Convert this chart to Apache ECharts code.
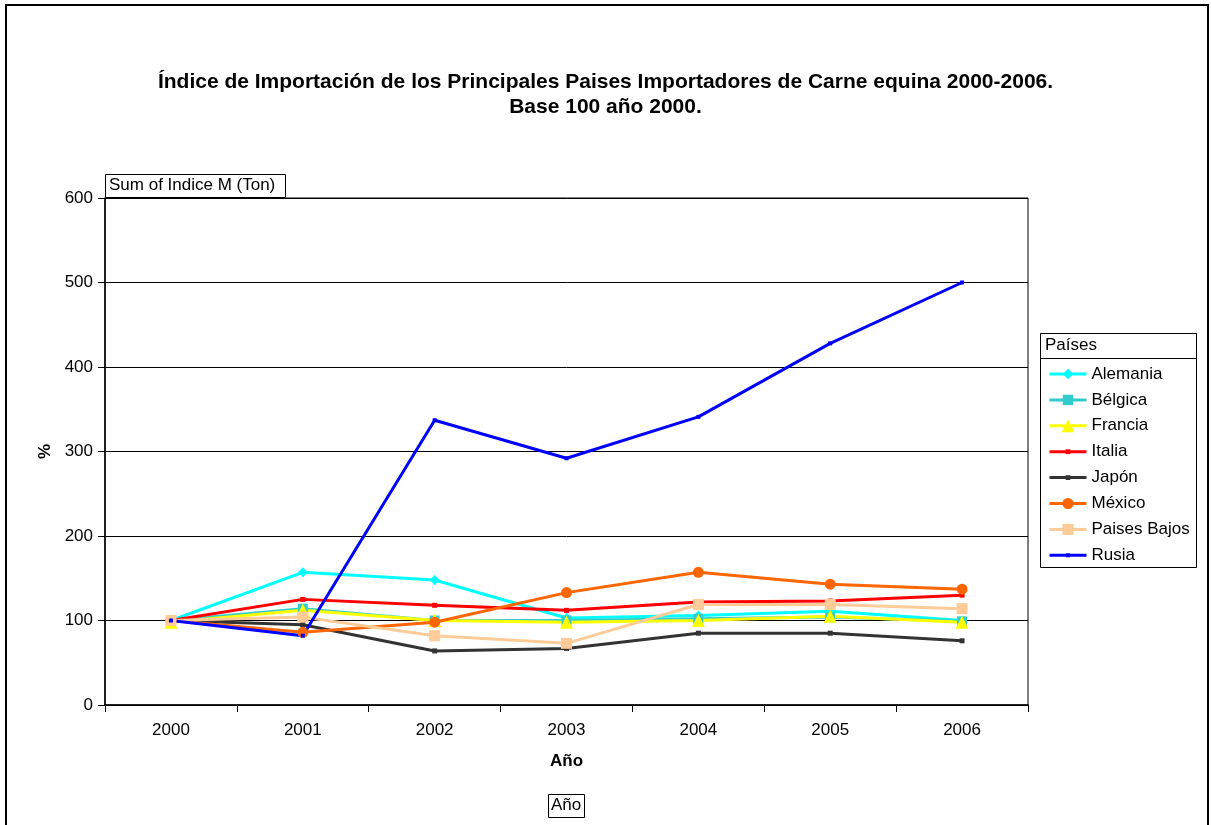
<!DOCTYPE html>
<html><head><meta charset="utf-8">
<script src="https://cdn.jsdelivr.net/npm/echarts@6/dist/echarts.min.js"></script>
<style>html,body{margin:0;padding:0;background:#fff}#c{width:1211px;height:825px}</style>
</head><body><div id="c"></div>
<script>
const years = ['2000','2001','2002','2003','2004','2005','2006'];
const yTicks = [0,100,200,300,400,500,600];
const alemania = [100,157,148,103,106,111,100];
const belgica = [100,114,100,100,102,104,99];
const francia = [98,112,100,98,100,105,98];
const italia = [100,125,118,112,122,123,130];
const japon = [100,95,64,67,85,85,76];
const mexico = [100,86,98,133,157,143,137];
const paisesBajos = [100,104,82,73,119,119,114];
const rusia = [100,82,337,292,341,428,500];

const FONT = 'Liberation Sans, Arial, sans-serif';
const seriesDefs = [
  {name:'Alemania', data:alemania, color:'#00FFFF', symbol:'diamond', size:10},
  {name:'Bélgica', data:belgica, color:'#33CCCC', symbol:'rect', size:10},
  {name:'Francia', data:francia, color:'#FFFF00', symbol:'triangle', size:13},
  {name:'Italia', data:italia, color:'#FF0000', symbol:'rect', size:5},
  {name:'Japón', data:japon, color:'#333333', symbol:'rect', size:5},
  {name:'México', data:mexico, color:'#FF6600', symbol:'circle', size:11},
  {name:'Paises Bajos', data:paisesBajos, color:'#FFCC99', symbol:'rect', size:11},
  {name:'Rusia', data:rusia, color:'#0000FF', symbol:'rect', size:4}
];

const legends = seriesDefs.map((s,i)=>({
  orient:'vertical', left:1048, top:364 + i*25.9, padding:0,
  itemWidth:37, itemHeight:Math.max(4, Math.round(s.size/0.8)), itemGap:0,
  selectedMode:false,
  lineStyle:{width:3},
  textStyle:{fontFamily:FONT, fontSize:17, color:'#000', lineHeight:20},
  data:[s.name]
}));

const chart = echarts.init(document.getElementById('c'), null, {renderer:'canvas'});
chart.setOption({
  animation:false,
  backgroundColor:'#fff',
  title:{
    text:'Índice de Importación de los Principales Paises Importadores de Carne equina 2000-2006.\nBase 100 año 2000.',
    left:'center', top:65,
    textStyle:{fontFamily:FONT, fontSize:21, fontWeight:'bold', color:'#000', lineHeight:25}
  },
  grid:{left:105, top:198, width:923, height:507, show:true, borderColor:'#000', borderWidth:1, containLabel:false},
  legend: legends,
  xAxis:{
    type:'category', data:years, boundaryGap:true,
    name:'Año', nameLocation:'middle', nameGap:48,
    nameTextStyle:{fontFamily:FONT, fontSize:17, fontWeight:'bold', color:'#000'},
    axisLine:{lineStyle:{color:'#000', width:1.5}},
    axisTick:{show:true, alignWithLabel:false, length:7, lineStyle:{color:'#000'}},
    axisLabel:{fontFamily:FONT, fontSize:17, color:'#000', margin:17},
    splitLine:{show:false}
  },
  yAxis:{
    type:'value', min:0, max:600, interval:100,
    name:'%', nameLocation:'middle', nameGap:51, nameRotate:90,
    nameTextStyle:{fontFamily:FONT, fontSize:17, fontWeight:'bold', color:'#000'},
    axisLine:{show:true, lineStyle:{color:'#000', width:1.5}},
    axisTick:{show:true, length:7, lineStyle:{color:'#000'}},
    axisLabel:{fontFamily:FONT, fontSize:17, color:'#000', margin:12},
    splitLine:{show:true, lineStyle:{color:'#000', width:1}}
  },
  series: seriesDefs.map(s=>({
    name:s.name, type:'line', data:s.data,
    symbol:s.symbol, symbolSize:s.size, showAllSymbol:true,
    itemStyle:{color:s.color, borderWidth:0},
    lineStyle:{color:s.color, width:3},
    emphasis:{disabled:true}
  })),
  graphic:[
    {type:'rect', shape:{x:6, y:5, width:1202, height:830}, style:{fill:null, stroke:'#000', lineWidth:2}, silent:true},
    {type:'rect', shape:{x:1040.5, y:333.5, width:156, height:234}, style:{fill:null, stroke:'#000', lineWidth:1}, silent:true, z:-1},
    {type:'rect', shape:{x:1040.5, y:333.5, width:156, height:25}, style:{fill:null, stroke:'#000', lineWidth:1}, silent:true},
    {type:'text', left:1045, top:337, style:{text:'Países', font:'17px '+FONT, fill:'#000'}},
    {type:'rect', shape:{x:105.5, y:174.5, width:180, height:23}, style:{fill:'#fff', stroke:'#000', lineWidth:1}, silent:true},
    {type:'text', left:109, top:177, style:{text:'Sum of Indice M (Ton)', font:'17px '+FONT, fill:'#000'}},
    {type:'rect', shape:{x:548.5, y:794.5, width:36, height:23}, style:{fill:'#fff', stroke:'#000', lineWidth:1}, silent:true},
    {type:'text', left:551, top:797, style:{text:'Año', font:'17px '+FONT, fill:'#000'}}
  ]
});
</script></body></html>
